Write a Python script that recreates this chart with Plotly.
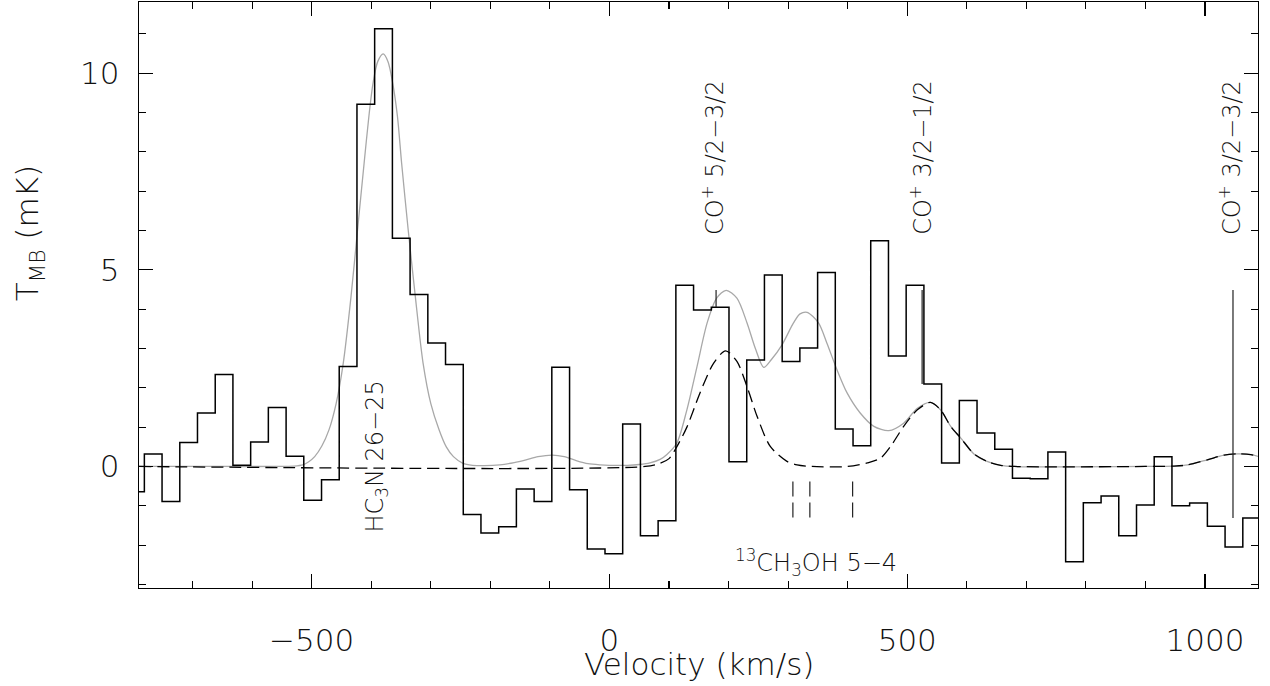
import plotly.graph_objects as go

# ---------------- data ----------------
# channel centre velocities (km/s) of the observed spectrum
channel_v = [-795.9, -766.1, -736.4, -706.6, -676.9, -647.1, -617.4, -587.6,
             -557.9, -528.1, -498.4, -468.6, -438.9, -409.1, -379.4, -349.6,
             -319.9, -290.1, -260.4, -230.6, -200.9, -171.1, -141.4, -111.6,
             -81.9, -52.1, -22.4, 7.4, 37.1, 66.9, 96.6, 126.4,
             156.1, 185.9, 215.6, 245.4, 275.1, 304.9, 334.6, 364.4,
             394.1, 423.9, 453.6, 483.4, 513.1, 542.9, 572.6, 602.4,
             632.1, 661.9, 691.6, 721.4, 751.1, 780.9, 810.6, 840.4,
             870.1, 899.9, 929.6, 959.4, 989.1, 1018.9, 1048.6, 1078.4]
# main-beam temperature (mK)
channel_t = [-0.64, 0.32, -0.89, 0.61, 1.36, 2.34, 0.03, 0.62,
             1.50, 0.26, -0.86, -0.34, 2.54, 9.21, 11.13, 5.80,
             4.37, 3.14, 2.59, -1.22, -1.69, -1.53, -0.57, -0.89,
             2.52, -0.59, -2.10, -2.22, 1.08, -1.76, -1.38, 4.61,
             3.98, 4.05, 0.12, 2.71, 4.87, 2.67, 3.01, 4.93,
             0.95, 0.53, 5.74, 2.81, 4.61, 2.10, 0.09, 1.68,
             0.85, 0.44, -0.30, -0.31, 0.37, -2.42, -0.92, -0.75,
             -1.76, -0.98, 0.25, -1.00, -0.93, -1.52, -2.05, -1.31]

# total fit (grey curve)
fit_v = [-790, -650, -560, -530, -515, -505, -495, -483, -471, -459, -447, -434,
         -423, -412, -404, -397, -389, -380, -372, -364, -356, -349, -338, -326,
         -313, -300, -286, -274, -262, -246, -230, -210, -184, -160, -140, -120,
         -96, -76, -56, -36, -15, 0, 30, 50, 68, 85, 96, 113,
         130, 147, 164, 180, 196, 214, 231, 245, 259, 272, 290, 309,
         320, 332, 351, 365, 382, 399, 421, 444, 469, 494, 517, 539,
         556, 573, 590, 612, 634, 657, 680, 900, 948, 971, 1004, 1032,
         1055, 1077, 1091]
fit_t = [0.0, 0.0, 0.0, 0.01, 0.04, 0.12, 0.25, 0.52, 0.93, 1.6, 2.63, 4.32,
         6.02, 7.71, 8.9, 9.75, 10.3, 10.49, 10.3, 9.75, 8.9, 7.71, 6.02, 4.32,
         2.63, 1.6, 0.93, 0.5, 0.25, 0.08, 0.03, 0.02, 0.04, 0.1, 0.17, 0.25,
         0.29, 0.25, 0.15, 0.07, 0.04, 0.03, 0.03, 0.05, 0.09, 0.18, 0.3, 0.59,
         1.44, 2.54, 3.65, 4.28, 4.48, 4.28, 3.65, 3.0, 2.52, 2.72, 3.1, 3.65,
         3.88, 3.92, 3.65, 3.14, 2.46, 1.87, 1.36, 1.02, 0.91, 1.10, 1.48, 1.63,
         1.44, 1.02, 0.72, 0.32, 0.13, 0.03, 0.0, 0.0, 0.01, 0.04, 0.17, 0.29,
         0.32, 0.30, 0.25]

# CO+ components only (black dashed curve)
co_v = [-790, 60, 85, 100, 113, 130, 152, 175, 195, 214, 231, 248,
        270, 298, 315, 340, 400, 433, 455, 472, 494, 517, 539, 556,
        573, 590, 612, 634, 657, 680, 900, 948, 971, 1004, 1032, 1055,
        1077, 1091]
co_t = [0.0, 0.0, 0.08, 0.2, 0.5, 1.0, 1.87, 2.63, 2.94, 2.67, 2.03, 1.27,
        0.51, 0.13, 0.04, 0.0, 0.0, 0.09, 0.21, 0.51, 1.02, 1.44, 1.63, 1.44,
        1.02, 0.72, 0.32, 0.13, 0.03, 0.0, 0.0, 0.01, 0.04, 0.17, 0.29, 0.32,
        0.30, 0.25]

# line identifications
co_lines_v = [179, 525, 1047]
co_lines_top = [4.49, 4.49, 4.49]
co_lines_bottom = [4.05, 2.10, -1.31]
co_labels = ["CO<sup>+</sup> 5/2\u22123/2", "CO<sup>+</sup> 3/2\u22121/2",
             "CO<sup>+</sup> 3/2\u22123/2"]
co_label_v = [175, 524, 1043]
co_label_base = 5.84

meth_v = [308, 336.5, 408.3]
meth_top = [-0.38, -0.38, -0.38]
meth_bottom = [-1.31, -1.31, -1.31]
meth_label = "<sup>13</sup>CH<sub>3</sub>OH 5\u22124"
meth_label_v = 346
meth_label_t = -2.45

hc3n_label = "HC<sub>3</sub>N 26\u221225"
hc3n_label_v = -391
hc3n_label_base = -1.74

x_range = [-790, 1089]
y_range = [-3.09, 11.81]

# ---------------- figure ----------------
FONT = "DejaVu Sans"
INK = "#111111"

w = channel_v[1] - channel_v[0]
edges = [c - w / 2 for c in channel_v] + [channel_v[-1] + w / 2]
steps = channel_t + [channel_t[-1]]

fig = go.Figure()

# grey total fit
fig.add_trace(go.Scatter(x=fit_v, y=fit_t, mode="lines",
                         line=dict(color="#a8a8a8", width=1.3, shape="spline", smoothing=0.8),
                         hoverinfo="skip", showlegend=False))
# black dashed CO+ model (incl. zero baseline)
fig.add_trace(go.Scatter(x=co_v, y=co_t, mode="lines",
                         line=dict(color="black", width=1.3, dash="12px,6px",
                                   shape="spline", smoothing=0.8),
                         hoverinfo="skip", showlegend=False))
# observed spectrum (histogram)
fig.add_trace(go.Scatter(x=edges, y=steps, mode="lines",
                         line=dict(color="black", width=1.5, shape="hv"),
                         showlegend=False))

# CO+ marker lines
lx, ly = [], []
for v, t0, t1 in zip(co_lines_v, co_lines_top, co_lines_bottom):
    lx += [v, v, None]
    ly += [t0, t1, None]
fig.add_trace(go.Scatter(x=lx, y=ly, mode="lines",
                         line=dict(color="#222222", width=1.2),
                         hoverinfo="skip", showlegend=False))

# 13CH3OH dashed markers
mx, my = [], []
for v, t0, t1 in zip(meth_v, meth_top, meth_bottom):
    mx += [v, v, None]
    my += [t0, t1, None]
fig.add_trace(go.Scatter(x=mx, y=my, mode="lines",
                         line=dict(color="#222222", width=1.2, dash="15px,6px"),
                         hoverinfo="skip", showlegend=False))

ann_font = dict(family=FONT, size=24, color=INK, weight=200)
annotations = []
for lab, v in zip(co_labels, co_label_v):
    annotations.append(dict(x=v, y=co_label_base, xref="x", yref="y", text=lab,
                            textangle=-90, showarrow=False, xanchor="center",
                            yanchor="bottom", font=ann_font))
annotations.append(dict(x=hc3n_label_v, y=hc3n_label_base, xref="x", yref="y",
                        text=hc3n_label, textangle=-90, showarrow=False,
                        xanchor="center", yanchor="bottom", font=ann_font))
annotations.append(dict(x=meth_label_v, y=meth_label_t, xref="x", yref="y",
                        text=meth_label, showarrow=False, xanchor="center",
                        yanchor="middle", font=ann_font))
# axis titles
annotations.append(dict(x=0.5, y=-0.13, xref="paper", yref="paper",
                        text="Velocity (km/s)", showarrow=False, xanchor="center",
                        yanchor="middle",
                        font=dict(family=FONT, size=31, color=INK, weight=200)))
annotations.append(dict(x=-0.0975, y=0.605, xref="paper", yref="paper",
                        text="T<sub>MB</sub> (mK)", textangle=-90, showarrow=False,
                        xanchor="center", yanchor="middle",
                        font=dict(family=FONT, size=31, color=INK, weight=200)))

axis_common = dict(showgrid=False, zeroline=False, showline=True, linecolor="black",
                   linewidth=1.3, mirror="ticks", ticks="inside", ticklen=14,
                   tickwidth=1.2, tickcolor="black", automargin=False,
                   tickfont=dict(family=FONT, size=31, color=INK, weight=200))

fig.update_xaxes(range=x_range, tick0=0, dtick=500, ticklabelstandoff=24,
                 minor=dict(dtick=100, ticks="inside", ticklen=7, tickwidth=1.1,
                            tickcolor="black"),
                 **axis_common)
fig.update_yaxes(range=y_range, tick0=0, dtick=5, ticklabelstandoff=12,
                 minor=dict(dtick=1, ticks="inside", ticklen=7, tickwidth=1.1,
                            tickcolor="black"),
                 **axis_common)

fig.update_layout(width=1270, height=686, autosize=False,
                  margin=dict(l=139, r=12, t=2, b=98),
                  paper_bgcolor="white", plot_bgcolor="white",
                  annotations=annotations, showlegend=False)

fig.write_html("out.html", config={"displayModeBar": False, "staticPlot": True},
               post_script="document.body.style.margin='0px';"
                           "document.body.style.overflow='hidden';")
